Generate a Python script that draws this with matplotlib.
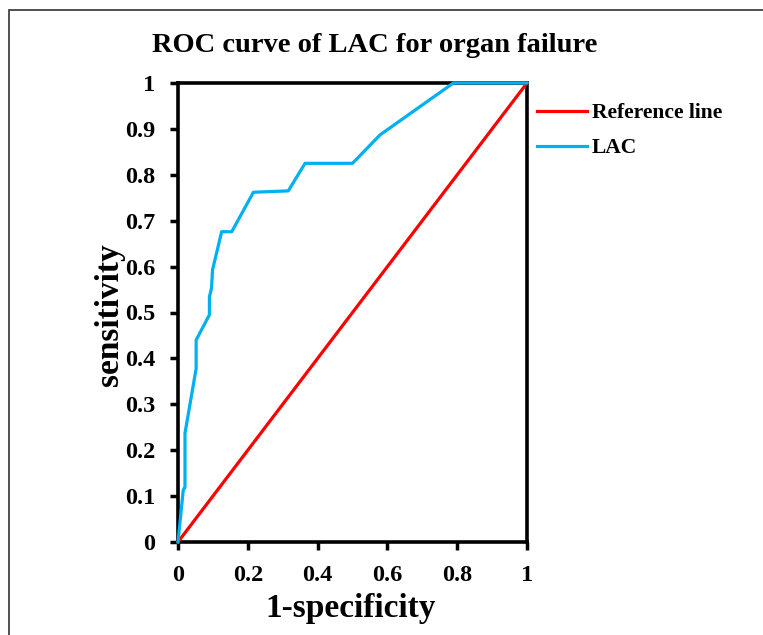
"""ROC curve of LAC for organ failure, redrawn with matplotlib."""

from __future__ import annotations

import matplotlib

matplotlib.use("Agg")
import matplotlib.pyplot as plt
from matplotlib.patches import Rectangle

# curve points
lac_fpr = [0.0, 0.015, 0.02, 0.02, 0.052, 0.052, 0.090, 0.090, 0.096, 0.099,
           0.125, 0.154, 0.216, 0.316, 0.364, 0.500, 0.579, 0.789, 1.0]
lac_tpr = [0.0, 0.113, 0.12, 0.237, 0.378, 0.440, 0.495, 0.534, 0.553, 0.593,
           0.676, 0.676, 0.762, 0.765, 0.825, 0.825, 0.887, 1.0, 1.0]
ref_fpr = [0.0, 1.0]
ref_tpr = [0.0, 1.0]

x_ticks = [0.0, 0.2, 0.4, 0.6, 0.8, 1.0]
x_tick_labels = ["0", "0.2", "0.4", "0.6", "0.8", "1"]
y_ticks = [0.0, 0.1, 0.2, 0.3, 0.4, 0.5, 0.6, 0.7, 0.8, 0.9, 1.0]
y_tick_labels = ["0", "0.1", "0.2", "0.3", "0.4", "0.5", "0.6", "0.7", "0.8", "0.9", "1"]

RED = "#FF0000"
BLUE = "#00B0F0"
W, H = 763, 635


def main() -> None:
    plt.rcParams["font.family"] = ["Liberation Serif", "DejaVu Serif"]
    plt.rcParams["font.weight"] = "bold"

    fig = plt.figure(figsize=(W / 100, H / 100), dpi=100)
    # axes box in pixels: x 178-527, y 83-542
    ax = fig.add_axes([178 / W, (H - 542) / H, 349 / W, 459 / H])

    ax.plot(ref_fpr, ref_tpr, color=RED, lw=2.3, label="Reference line",
            clip_on=False, zorder=3)
    ax.plot(lac_fpr, lac_tpr, color=BLUE, lw=2.3, label="LAC",
            clip_on=False, zorder=4)

    ax.set_xlim(0, 1)
    ax.set_ylim(0, 1)
    ax.set_xticks(x_ticks, x_tick_labels)
    ax.set_yticks(y_ticks, y_tick_labels)
    ax.tick_params(direction="out", length=5.5, width=2.5, pad=11,
                   labelsize=17.5, color="black")
    for label in ax.get_xticklabels() + ax.get_yticklabels():
        label.set_fontweight("bold")
    for spine in ax.spines.values():
        spine.set_linewidth(2.6)
        spine.set_color("black")

    ax.set_xlabel("1-specificity", fontsize=24, fontweight="bold", va="center")
    ax.xaxis.set_label_coords(0.496, -0.145)
    ax.set_ylabel("sensitivity", fontsize=24, fontweight="bold", va="center")
    ax.yaxis.set_label_coords(-0.195, 0.495)

    fig.text(375 / W, 1 - 46 / H, "ROC curve of LAC for organ failure",
             fontsize=20.5, fontweight="bold", ha="center", va="center")

    ax.legend(loc="upper left", bbox_to_anchor=(537 / W, 1 - 103 / H),
              bbox_transform=fig.transFigure, frameon=False, borderpad=0,
              borderaxespad=0, handlelength=2.3, handletextpad=0.25,
              labelspacing=0.7, prop={"size": 15.5, "weight": "bold"})

    # thin frame around the figure (only left and top visible in the crop)
    fig.patches.append(Rectangle((9 / W, -0.1), 2.0, 1.1 - 10 / H,
                                 transform=fig.transFigure, fill=False,
                                 lw=1.2, ec="#333333"))

    fig.savefig("out.png", dpi=100, facecolor="white")
    plt.close(fig)


if __name__ == "__main__":
    main()
